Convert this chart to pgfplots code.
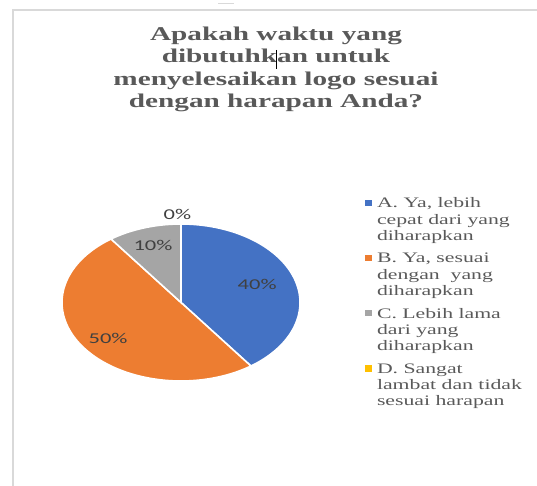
\documentclass[border=0pt]{standalone}
\usepackage{pgfplots}
\pgfplotsset{compat=1.18}
\usepackage{fontspec}
\setmainfont{Liberation Serif}
\newfontfamily\titlefont[FakeStretch=1.5]{Liberation Serif}
\newfontfamily\legfont[FakeStretch=1.5]{Liberation Serif}
\newfontfamily\labfont[FakeStretch=1.5]{Carlito}
\definecolor{pieA}{HTML}{4472C4}
\definecolor{pieB}{HTML}{ED7D31}
\definecolor{pieC}{HTML}{A5A5A5}
\definecolor{pieD}{HTML}{FFC000}
\definecolor{txt}{HTML}{595959}
\definecolor{lab}{HTML}{404040}
\definecolor{framec}{HTML}{D9D9D9}
\newcommand{\legentry}[3]{\parbox[t]{160bp}{\legfont\fontsize{14.5bp}{16.3bp}\selectfont\color{txt}\rule{0pt}{11bp}#1\newline #2\newline #3\rule[-4bp]{0pt}{4bp}}}
\begin{document}
\begin{tikzpicture}
\path[use as bounding box] (0,0) rectangle (537bp,486bp);
\draw[framec, line width=1.3bp] (13bp,0) -- (13bp,476bp) -- (537bp,476bp);
\draw[framec, line width=1.3bp] (218bp,482.5bp) -- (234bp,482.5bp);
\begin{scope}[every node/.style={anchor=base, text=txt, font=\titlefont\bfseries\fontsize{19.5bp}{22.5bp}\selectfont, inner sep=0pt}]
\node at (276bp,445bp) {Apakah waktu yang};
\node at (276bp,423bp) {dibutuhkan untuk};
\node at (276bp,400bp) {menyelesaikan logo sesuai};
\node at (276bp,378bp) {dengan harapan Anda?};
\end{scope}
\draw[black, line width=0.9bp] (276bp,436bp) -- (276bp,417bp);
\begin{axis}[
  at={(181bp,183.5bp)}, anchor=center,
  width=238bp, height=157bp, scale only axis,
  hide axis, clip=false,
  xmin=-1, xmax=1, ymin=-1, ymax=1,
  legend image code/.code={\fill[#1, draw=none] (0bp,-9.3bp) rectangle (6.5bp,-2.8bp);},
  legend style={draw=none, fill=none, inner sep=0pt, outer sep=0pt,
    at={(1.2731,1.1738)}, anchor=north west,
    column sep=5.5bp, row sep=7.6bp,
    cells={anchor=base west},
    nodes={inner sep=0pt, text depth=}},
]
% slices: A 40%, B 50%, C 10%, D 0% (clockwise from the top)
\addplot[fill=pieA, draw=white, line width=1.6bp, domain=-54:90, samples=80, variable=\t]
  ({cos(\t)},{sin(\t)}) -- (axis cs:0,0) -- cycle;
\addlegendentry{\legentry{A. Ya, lebih}{cepat dari yang}{diharapkan}}
\addplot[fill=pieB, draw=white, line width=1.6bp, domain=-234:-54, samples=100, variable=\t]
  ({cos(\t)},{sin(\t)}) -- (axis cs:0,0) -- cycle;
\addlegendentry{\legentry{B. Ya, sesuai}{dengan\ \ yang}{diharapkan}}
\addplot[fill=pieC, draw=white, line width=1.6bp, domain=-270:-234, samples=30, variable=\t]
  ({cos(\t)},{sin(\t)}) -- (axis cs:0,0) -- cycle;
\addlegendentry{\legentry{C. Lebih lama}{dari yang}{diharapkan}}
\addlegendimage{fill=pieD, draw=none}
\addlegendentry{\legentry{D. Sangat}{lambat dan tidak}{sesuai harapan}}
\addplot[forget plot, only marks, mark=none, nodes near coords, point meta=explicit symbolic,
  nodes near coords style={anchor=center, inner sep=0pt, text=lab, font=\labfont\fontsize{15bp}{18bp}\selectfont}]
  coordinates {(0.64,0.236) [40\%] (-0.613,-0.459) [50\%] (-0.235,0.726) [10\%] (-0.03,1.12) [0\%]};
\end{axis}
\end{tikzpicture}
\end{document}
